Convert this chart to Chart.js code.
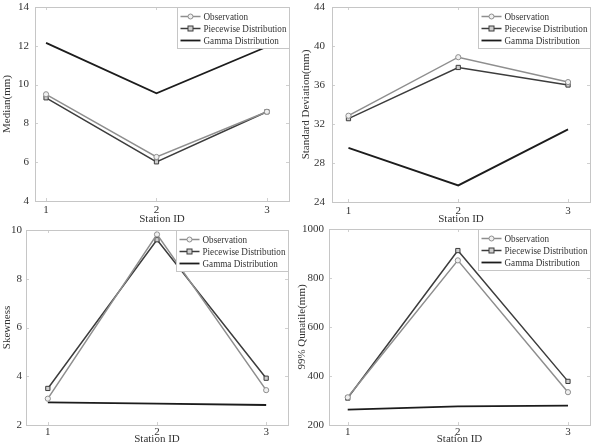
<!DOCTYPE html>
<html>
<head>
<meta charset="utf-8">
<script src="https://cdn.jsdelivr.net/npm/chart.js@4/dist/chart.umd.min.js"></script>
<style>
  html, body { margin: 0; padding: 0; background: #fff; }
  #wrap { position: relative; width: 597px; height: 445px; }
  #wrap canvas { position: absolute; left: 0; top: 0; }
</style>
</head>
<body>
<div id="wrap">
  <canvas id="c1" width="597" height="445"></canvas>
  <canvas id="c2" width="597" height="445"></canvas>
  <canvas id="c3" width="597" height="445"></canvas>
  <canvas id="c4" width="597" height="445"></canvas>
</div>
<script>
// ---- data ----
const stations = [1, 2, 3];
const stationTicks = [1, 2, 3];
const seriesNames = ['Observation', 'Piecewise Distribution', 'Gamma Distribution'];

const medianObs = [9.5, 6.27, 8.6];
const medianPiecewise = [9.32, 6.02, 8.6];
const medianGamma = [12.15, 9.55, 11.95];
const medianTicks = [4, 6, 8, 10, 12, 14];

const sdObs = [32.85, 38.85, 36.3];
const sdPiecewise = [32.55, 37.8, 36.0];
const sdGamma = [29.55, 25.7, 31.45];
const sdTicks = [24, 28, 32, 36, 40, 44];

const skewObs = [3.08, 9.82, 3.43];
const skewPiecewise = [3.5, 9.6, 3.92];
const skewGamma = [2.93, 2.88, 2.82];
const skewTicks = [2, 4, 6, 8, 10];

const q99Obs = [313, 872, 334];
const q99Piecewise = [310, 912, 378];
const q99Gamma = [263, 276, 279];
const q99Ticks = [200, 400, 600, 800, 1000];

// ---- styling / layout ----
const FONT = "'Liberation Serif', 'Times New Roman', serif";
const TEXT = '#333';
const styles = [
  { color: '#8e8e8e', width: 1.5, point: 'circle', radius: 2.6, fill: '#f0f0f0' },
  { color: '#3c3c3c', width: 1.5, point: 'rect', radius: 3, fill: '#cfcfcf' },
  { color: '#1c1c1c', width: 1.8, point: false, radius: 0, fill: '#1c1c1c' }
];

function pts(vals) { return stations.map((s, i) => ({ x: s, y: vals[i] })); }

const boxPlugin = {
  id: 'boxAndLegend',
  afterDraw(chart) {
    const ctx = chart.ctx, a = chart.chartArea;
    ctx.save();
    // inward ticks
    ctx.strokeStyle = '#d0d0d0';
    ctx.lineWidth = 1;
    const xs = chart.scales.x, ys = chart.scales.y;
    ctx.beginPath();
    xs.ticks.forEach(t => {
      const px = Math.round(xs.getPixelForValue(t.value)) + 0.5;
      ctx.moveTo(px, a.bottom); ctx.lineTo(px, a.bottom - 3);
      ctx.moveTo(px, a.top); ctx.lineTo(px, a.top + 3);
    });
    ys.ticks.forEach(t => {
      const py = Math.round(ys.getPixelForValue(t.value)) + 0.5;
      ctx.moveTo(a.left, py); ctx.lineTo(a.left + 3, py);
      ctx.moveTo(a.right, py); ctx.lineTo(a.right - 3, py);
    });
    ctx.stroke();
    // frame
    ctx.strokeStyle = '#c6c6c6';
    ctx.strokeRect(Math.round(a.left) + 0.5, Math.round(a.top) + 0.5,
                   Math.round(a.right - a.left), Math.round(a.bottom - a.top));
    // legend
    const lw = 112, lh = 41;
    const lx = Math.round(a.right - lw) + 0.5, ly = Math.round(a.top) + 0.5;
    ctx.fillStyle = '#fff';
    ctx.fillRect(lx, ly, lw, lh);
    ctx.strokeStyle = '#c6c6c6';
    ctx.strokeRect(lx, ly, lw, lh);
    chart.data.datasets.forEach((ds, i) => {
      const st = styles[i];
      const y = ly + 9 + i * 12;
      ctx.strokeStyle = st.color;
      ctx.lineWidth = st.width;
      ctx.beginPath(); ctx.moveTo(lx + 3, y); ctx.lineTo(lx + 23, y); ctx.stroke();
      ctx.lineWidth = 1;
      if (st.point === 'circle') {
        ctx.fillStyle = st.fill;
        ctx.beginPath(); ctx.arc(lx + 13, y, 2.5, 0, Math.PI * 2); ctx.fill(); ctx.stroke();
      } else if (st.point === 'rect') {
        ctx.fillStyle = st.fill;
        ctx.fillRect(lx + 10.5, y - 2.5, 5, 5); ctx.strokeRect(lx + 10.5, y - 2.5, 5, 5);
      }
      ctx.save();
      ctx.translate(lx + 26, y + 0.5);
      ctx.scale(0.87, 1);
      ctx.fillStyle = TEXT;
      ctx.font = '10.5px ' + FONT;
      ctx.textBaseline = 'middle';
      ctx.textAlign = 'left';
      ctx.fillText(ds.label, 0, 0);
      ctx.restore();
    });
    ctx.restore();
  }
};

function makeChart(id, obs, pw, gm, yTicks, yTitle, L) {
  const yW = L.left - (L.titleX - 5.5);
  const xH = L.titleY + 5.5 - L.bottom;
  const vals = [obs, pw, gm];
  new Chart(document.getElementById(id), {
    type: 'line',
    data: {
      datasets: vals.map((v, i) => ({
        label: seriesNames[i],
        data: pts(v),
        borderColor: styles[i].color,
        borderWidth: styles[i].width,
        pointStyle: styles[i].point,
        pointRadius: styles[i].radius,
        pointBorderWidth: 1,
        pointBorderColor: styles[i].color,
        pointBackgroundColor: styles[i].fill,
        fill: false,
        tension: 0
      }))
    },
    options: {
      responsive: false,
      animation: false,
      events: [],
      layout: { padding: { left: L.left - yW, top: L.top, right: 597 - L.right, bottom: 445 - L.bottom - xH } },
      plugins: { legend: { display: false }, tooltip: { enabled: false } },
      scales: {
        x: {
          type: 'linear', min: L.xmin, max: L.xmax,
          afterBuildTicks(s) { s.ticks = stationTicks.map(v => ({ value: v })); },
          afterFit(s) { s.height = xH; s.paddingLeft = 0; s.paddingRight = 0; },
          grid: { display: false, drawTicks: false },
          border: { display: false },
          ticks: { padding: L.xPad, color: TEXT, font: { family: FONT, size: 11 }, callback: v => String(v) },
          title: { display: true, text: 'Station ID', color: TEXT, padding: { top: 0, bottom: 0 },
                   font: { family: FONT, size: 11, lineHeight: 1 } }
        },
        y: {
          type: 'linear', min: yTicks[0], max: yTicks[yTicks.length - 1],
          afterBuildTicks(s) { s.ticks = yTicks.map(v => ({ value: v })); },
          afterFit(s) { s.width = yW; s.paddingTop = 0; s.paddingBottom = 0; },
          grid: { display: false, drawTicks: false },
          border: { display: false },
          ticks: { padding: L.tickPad, color: TEXT, font: { family: FONT, size: 11 }, callback: v => String(v) },
          title: { display: true, text: yTitle, color: TEXT, padding: { top: 0, bottom: 0 },
                   font: { family: FONT, size: 11, lineHeight: 1 } }
        }
      }
    },
    plugins: [boxPlugin]
  });
}

makeChart('c1', medianObs, medianPiecewise, medianGamma, medianTicks, 'Median(mm)',
  { left: 35, right: 289, top: 7, bottom: 201, xmin: 0.9, xmax: 3.2, titleX: 7, titleY: 219, tickPad: 6, xPad: 3 });
makeChart('c2', sdObs, sdPiecewise, sdGamma, sdTicks, 'Standard Deviation(mm)',
  { left: 332, right: 590, top: 7, bottom: 202, xmin: 0.85, xmax: 3.2, titleX: 306, titleY: 219, tickPad: 7, xPad: 3 });
makeChart('c3', skewObs, skewPiecewise, skewGamma, skewTicks, 'Skewness',
  { left: 26, right: 288, top: 230, bottom: 425, xmin: 0.8, xmax: 3.2, titleX: 7, titleY: 439.5, tickPad: 4, xPad: 1 });
makeChart('c4', q99Obs, q99Piecewise, q99Gamma, q99Ticks, '99% Qunatile(mm)',
  { left: 329, right: 590, top: 229, bottom: 425, xmin: 0.83, xmax: 3.2, titleX: 302, titleY: 439.5, tickPad: 5, xPad: 1 });
</script>
</body>
</html>
